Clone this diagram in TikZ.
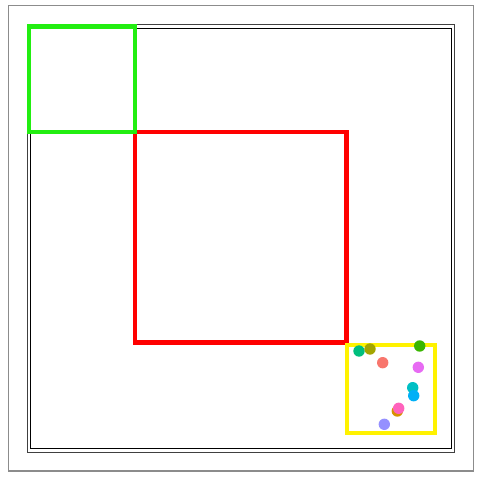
\documentclass[tikz,border=0pt]{standalone}
\usetikzlibrary{calc}
\definecolor{cA}{HTML}{00BF7D}
\definecolor{cB}{HTML}{A3A500}
\definecolor{cC}{HTML}{F8766D}
\definecolor{cD}{HTML}{39B600}
\definecolor{cE}{HTML}{E76BF3}
\definecolor{cF}{HTML}{00BFC4}
\definecolor{cG}{HTML}{00B0F6}
\definecolor{cH}{HTML}{D89000}
\definecolor{cI}{HTML}{FF62BC}
\definecolor{cJ}{HTML}{9590FF}
\definecolor{boxgreen}{HTML}{22EE11}
\tikzset{
  dot/.style={circle, inner sep=0pt, minimum size=5.7pt, draw=none},
  vpbox/.style={line width=2.2pt},
}
\begin{document}
\begin{tikzpicture}[x=0.5pt,y=-0.5pt]
\useasboundingbox (0,0) rectangle (480,480);
% frames
\draw[color=gray!90, line width=0.55pt] (8.3,5.3) rectangle (473.3,471);
\draw[color=black!75, line width=0.5pt] (27.3,24.3) rectangle (454.7,452.3);
\draw[color=black, line width=0.5pt] (30.7,28.3) rectangle (451.7,448.7);
% viewports
\draw[vpbox, red] (135,132) rectangle (346.3,342.5);
\draw[vpbox, boxgreen] (29.2,26.5) rectangle (135,132.3);
\draw[vpbox, yellow, line width=2pt] (347,345) rectangle (435.3,433.3);
% points
\node[dot, fill=cA] (p1) at (359,351) {};
\node[dot, fill=cB] (p2) at (370,349) {};
\node[dot, fill=cC] (p3) at (382.7,362.7) {};
\node[dot, fill=cD] (p4) at (419.7,346) {};
\node[dot, fill=cE] (p5) at (418.3,367.3) {};
\node[dot, fill=cF] (p6) at (412.7,387.7) {};
\node[dot, fill=cG] (p7) at (413.7,395.7) {};
\node[dot, fill=cH] (p8) at (397.3,411) {};
\node[dot, fill=cI] (p9) at (398.7,408.3) {};
\node[dot, fill=cJ] (p10) at (384.3,424.3) {};
\end{tikzpicture}
\end{document}
